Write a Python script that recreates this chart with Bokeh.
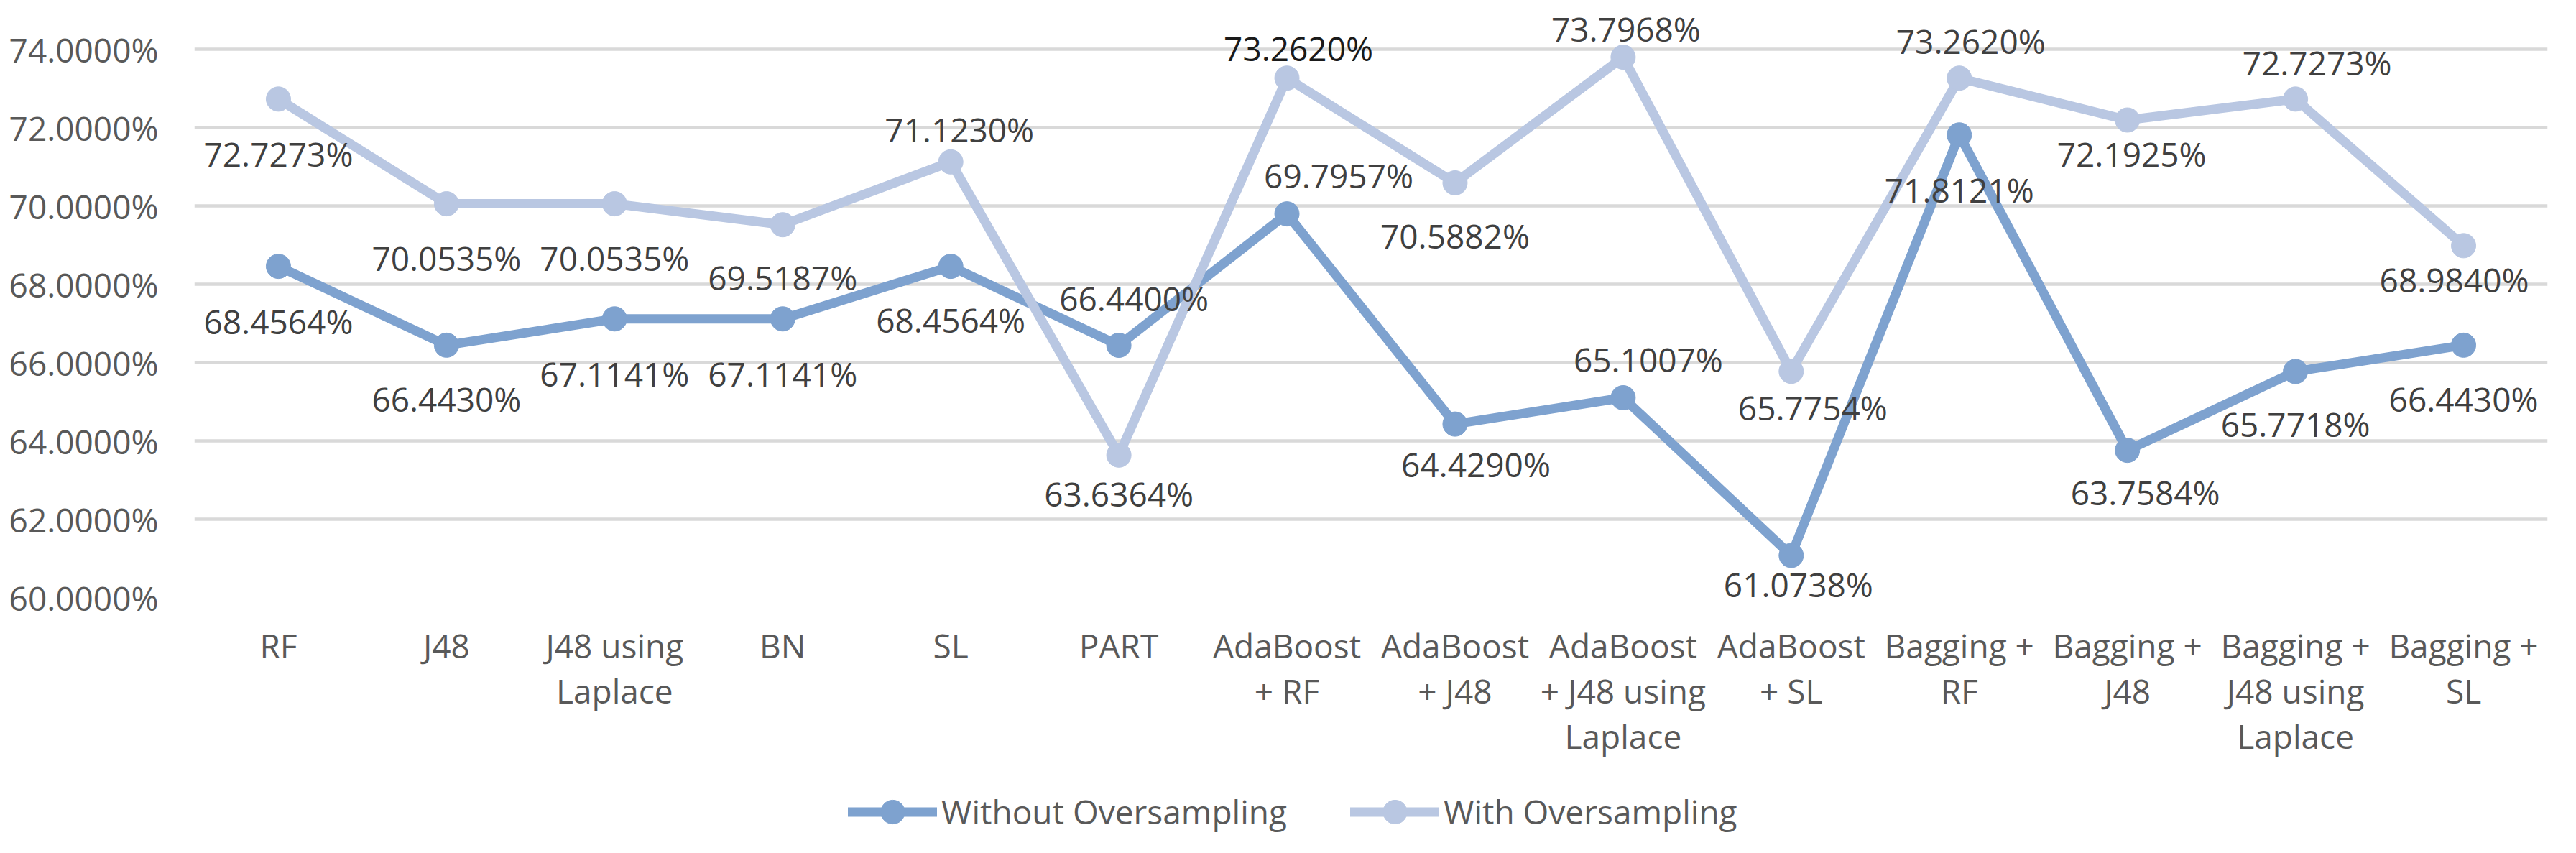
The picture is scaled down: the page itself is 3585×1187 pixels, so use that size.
from bokeh.plotting import figure
from bokeh.models import ColumnDataSource, FixedTicker, Legend, LegendItem, Range1d
from bokeh.layouts import column
from bokeh.embed import file_html
from bokeh.resources import INLINE
from bokeh.core.properties import value

# ---- data ----
categories = ["RF", "J48", "J48 using\nLaplace", "BN", "SL", "PART",
              "AdaBoost\n+ RF", "AdaBoost\n+ J48", "AdaBoost\n+ J48 using\nLaplace",
              "AdaBoost\n+ SL", "Bagging +\nRF", "Bagging +\nJ48",
              "Bagging +\nJ48 using\nLaplace", "Bagging +\nSL"]
without_os = [68.4564, 66.4430, 67.1141, 67.1141, 68.4564, 66.4400, 69.7957,
              64.4290, 65.1007, 61.0738, 71.8121, 63.7584, 65.7718, 66.4430]
with_os = [72.7273, 70.0535, 70.0535, 69.5187, 71.1230, 63.6364, 73.2620,
           70.5882, 73.7968, 65.7754, 73.2620, 72.1925, 72.7273, 68.9840]
y_ticks = [60, 62, 64, 66, 68, 70, 72, 74]
y_tick_labels = ["60.0000%", "62.0000%", "64.0000%", "66.0000%",
                 "68.0000%", "70.0000%", "72.0000%", "74.0000%"]
series_names = ["Without Oversampling", "With Oversampling"]

# ---- label placement (screen px, +down) ----
without_dx = [0, 0, 0, 0, 0, 21, 72, 29, 35, 10, 0, 25, 0, 0]
without_dy = [76, 75, 76, 76, 74, -66, -54, 56, -54, 40, 76, 58, 73, 75]
with_dx = [0, 0, 0, 0, 12, 0, 16, 0, 4, 30, 16, 6, 30, -13]
with_dy = [76, 75, 75, 73, -45, 54, -42, 74, -40, 50, -52, 47, -51, 47]

C_WITHOUT = "#7EA2CF"
C_WITH = "#B9C7E2"
C_LABEL = "#404040"
FONT = "Open Sans"
W = 3569
H_MAIN = 1080
H_LEG = 91

xs = list(range(1, len(categories) + 1))

p = figure(width=W, height=H_MAIN, output_backend="svg", toolbar_location=None,
           x_range=Range1d(0.5, len(categories) + 0.5),
           y_range=Range1d(60, 60 + 831 / 54.5),
           min_border_left=270, min_border_right=24, min_border_top=0,
           min_border_bottom=H_MAIN - 831)
p.outline_line_color = None
p.background_fill_color = "white"
p.border_fill_color = "white"

p.xgrid.visible = False
p.ygrid.grid_line_color = "#D9D9D9"
p.ygrid.grid_line_width = 4.5

# y axis
p.yaxis.ticker = FixedTicker(ticks=y_ticks)
p.yaxis.major_label_overrides = dict(zip(y_ticks, y_tick_labels))
p.yaxis.axis_line_color = None
p.yaxis.major_tick_line_color = None
p.yaxis.minor_tick_line_color = None
p.yaxis.major_tick_out = 0
p.yaxis.major_tick_in = 0
p.yaxis.major_label_standoff = 50
p.yaxis.major_label_text_font = FONT
p.yaxis.major_label_text_font_size = "46px"
p.yaxis.major_label_text_color = "#595959"

# x axis
p.xaxis.ticker = FixedTicker(ticks=xs)
p.xaxis.major_label_overrides = dict(zip(xs, categories))
p.xaxis.axis_line_color = None
p.xaxis.major_tick_line_color = None
p.xaxis.minor_tick_line_color = None
p.xaxis.major_tick_out = 0
p.xaxis.major_tick_in = 0
p.xaxis.major_label_standoff = 35
p.xaxis.major_label_text_font = FONT
p.xaxis.major_label_text_font_size = "46px"
p.xaxis.major_label_text_color = "#595959"
p.xaxis.major_label_text_line_height = 1.02

p.line(xs, without_os, line_color=C_WITHOUT, line_width=13,
       line_join="round", line_cap="round")
p.scatter(xs, without_os, size=34, fill_color=C_WITHOUT, line_color=C_WITHOUT)
p.line(xs, with_os, line_color=C_WITH, line_width=13,
       line_join="round", line_cap="round")
p.scatter(xs, with_os, size=34, fill_color=C_WITH, line_color=C_WITH)

label_colors = [C_LABEL] * (2 * len(xs))
label_colors[len(xs) + 6] = "#1A1A1A"   # AdaBoost + RF (with) label is darker

lab_src = ColumnDataSource(data=dict(
    x=xs + xs,
    y=without_os + with_os,
    text=[f"{v:.4f}%" for v in without_os] + [f"{v:.4f}%" for v in with_os],
    dx=without_dx + with_dx,
    dy=without_dy + with_dy,
    color=label_colors,
))
p.text(x="x", y="y", text="text", x_offset="dx", y_offset="dy", source=lab_src,
       text_align="center", text_baseline="middle", text_font=value(FONT),
       text_font_size="46px", text_color="color")

# ---- legend strip (separate figure so it is not clipped) ----
lf = figure(width=W, height=H_LEG, output_backend="svg", toolbar_location=None,
            x_range=Range1d(0, 1), y_range=Range1d(0, 1),
            x_axis_location=None, y_axis_location=None, min_border=0)
lf.outline_line_color = None
lf.xgrid.visible = False
lf.ygrid.visible = False
# key renderers: one sample each, kept outside the visible range
lr1 = lf.line([-5, -4], [-5, -5], line_color=C_WITHOUT, line_width=13, line_cap="round")
ls1 = lf.scatter([-5], [-5], size=34, fill_color=C_WITHOUT, line_color=C_WITHOUT)
lr2 = lf.line([-5, -4], [-5, -5], line_color=C_WITH, line_width=13, line_cap="round")
ls2 = lf.scatter([-5], [-5], size=34, fill_color=C_WITH, line_color=C_WITH)

legend = Legend(items=[LegendItem(label=series_names[0], renderers=[lr1, ls1]),
                       LegendItem(label=series_names[1], renderers=[lr2, ls2])],
                orientation="horizontal", location=(910, 0.5),
                glyph_width=124, glyph_height=83, label_standoff=6, spacing=88,
                padding=0, margin=0,
                label_text_font=FONT, label_text_font_size="46px",
                label_text_color="#595959",
                background_fill_alpha=0, border_line_alpha=0)
lf.add_layout(legend)

layout = column(p, lf, spacing=0)
open("out.html", "w").write(file_html(layout, INLINE))
